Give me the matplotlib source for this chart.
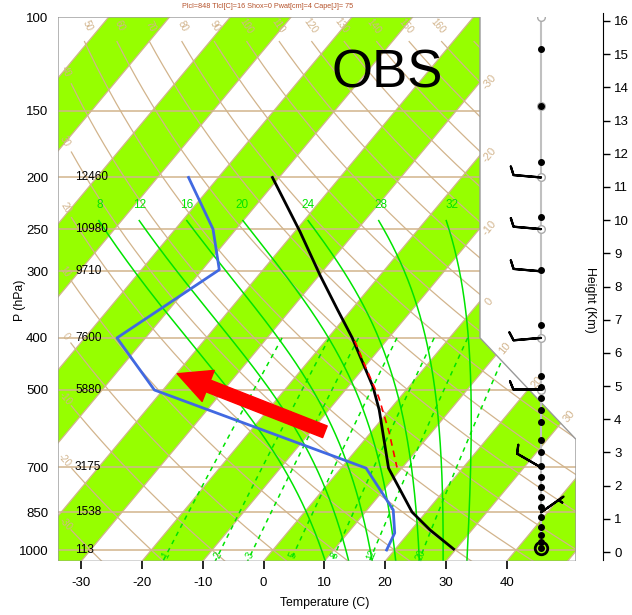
import numpy as np
import matplotlib
matplotlib.use('Agg')
import matplotlib.pyplot as plt
from matplotlib.patches import Polygon, FancyArrowPatch
from matplotlib.ticker import NullLocator

plt.rcParams['font.family'] = ['Liberation Sans', 'DejaVu Sans']

# ---------------- data ----------------
pres_levels = [100, 150, 200, 250, 300, 400, 500, 700, 850, 1000]
height_levels = [200, 250, 300, 400, 500, 700, 850, 1000]
height_labels = ['12460', '10980', '9710', '7600', '5880', '3175', '1538', '113']

temp_p = [200, 253, 305, 354, 400, 494, 546, 702, 849, 917, 996]
temp_c = [-51.1, -39.1, -29.9, -22.3, -16.0, -5.9, -1.7, 7.8, 17.7, 23.1, 29.6]

dewp_p = [200, 250, 298, 400, 501, 702, 841, 929, 1000]
dewp_c = [-64.9, -53.8, -47.2, -54.7, -41.4, 4.1, 14.3, 17.7, 18.7]

parcel_p = [405, 450, 517, 600, 700]
parcel_c = [-15.2, -10.2, -3.5, 2.9, 9.1]

wind_p = [200, 250, 300, 400, 500, 700, 850]
wind_dir = [275, 275, 275, 265, 270, 300, 55]
wind_spd = [10, 10, 10, 10, 10, 10, 5]

dot_p = [115, 147, 187, 237, 298, 378, 471, 494, 518, 546, 575, 622, 655,
         697, 729, 762, 795, 830, 866, 905, 936, 965]
ring_p = [100, 147, 200, 250, 400, 500]
sfc_p = 990

thw_list = [8, 12, 16, 20, 24, 28, 32]
mixr_list = [1, 2, 3, 5, 8, 12, 20]
theta_list = list(range(-30, 200, 10))
theta_label_max = 160
iso_label_list = [-30, -20, -10, 0, 10, 20, 30]
temp_ticks = [-30, -20, -10, 0, 10, 20, 30, 40]
height_ticks = list(range(0, 17))

title = 'Plcl=848 Tlcl[C]=16 Shox=0 Pwat[cm]=4 Cape[J]= 75'

# ---------------- style / layout ----------------
GREEN_BAND = '#96FF00'
TAN = '#D2B48C'
GLINE = '#00E400'
W, H = 632, 615
X0_PIX, PX_PER_C = 263.5, 6.08
P_BOT, P_TOP = 1050., 100.
K = 73.0


def fx(px):
    return px / W


def fy(py):
    return 1 - py / H


def skx(T, p):
    return np.asarray(T, dtype=float) + K * np.log10(P_BOT / np.asarray(p, dtype=float))


fig = plt.figure(figsize=(6.32, 6.15), dpi=100)
ax = fig.add_axes([fx(58), fy(561.3), fx(576) - fx(58), fy(17) - fy(561.3)])
ax.set_yscale('log')
ax.set_ylim(P_BOT, P_TOP)
XL = (58 - X0_PIX) / PX_PER_C
XR = (576 - X0_PIX) / PX_PER_C
XR1 = (480 - X0_PIX) / PX_PER_C
ax.set_xlim(XL, XR)
for s in ax.spines.values():
    s.set_visible(False)
ax.patch.set_visible(False)

bound = Polygon([(XL, P_TOP), (XR1, P_TOP), (XR1, 400), (XR, 620), (XR, P_BOT), (XL, P_BOT)],
                closed=True, facecolor='white', edgecolor='none', zorder=0)
ax.add_patch(bound)


def clip(artists):
    for a in artists:
        a.set_clip_path(bound)


# green isotherm bands
for k in range(-13, 6):
    if k % 2 == 0:
        T1, T2 = 10 * k, 10 * k + 10
        poly = Polygon([(skx(T1, P_BOT), P_BOT), (skx(T2, P_BOT), P_BOT),
                        (skx(T2, P_TOP), P_TOP), (skx(T1, P_TOP), P_TOP)],
                       closed=True, facecolor=GREEN_BAND, edgecolor='none', zorder=1)
        ax.add_patch(poly)
        poly.set_clip_path(bound)

# isotherms
for T in range(-120, 60, 10):
    clip(ax.plot([skx(T, P_BOT), skx(T, P_TOP)], [P_BOT, P_TOP], color=TAN, lw=0.9, zorder=2))

# isobars
for p in pres_levels[1:]:
    clip(ax.plot([XL, XR], [p, p], color=TAN, lw=1.1, zorder=2))

# dry adiabats
pg = np.geomspace(P_TOP, P_BOT, 400)


def angle_of(X1, p1, X2, p2):
    a = ax.transData.transform([(X1, p1), (X2, p2)])
    return np.degrees(np.arctan2(a[1, 1] - a[0, 1], a[1, 0] - a[0, 0]))


for th in theta_list:
    T = (th + 273.15) * (pg / 1000.) ** 0.2857 - 273.15
    X = skx(T, pg)
    m = (pg >= 111) & (X >= XL + 2.1)
    clip(ax.plot(X[m], pg[m], color=TAN, lw=0.9, zorder=2))
    if th > theta_label_max:
        continue
    ptop = 104.
    Xtop = float(skx((th + 273.15) * (ptop / 1000.) ** 0.2857 - 273.15, ptop))
    if Xtop >= XL + 1.2:
        lx, lp = Xtop + 1.6, ptop
    else:
        idx = np.argmin(np.abs(X - (XL + 1.2)))
        lx, lp = X[idx], pg[idx]
        if lp > 1040:
            continue
    Tl = (th + 273.15) * (lp / 1000.) ** 0.2857 - 273.15
    T2 = (th + 273.15) * (lp * 1.05 / 1000.) ** 0.2857 - 273.15
    rot = angle_of(float(skx(Tl, lp)), lp, float(skx(T2, lp * 1.05)), lp * 1.05)
    ax.text(lx, lp, str(th), color=TAN, fontsize=7, rotation=rot, rotation_mode='anchor',
            ha='center', va='center', zorder=3)


# moist (pseudo) adiabats
def f_moist(p, T):
    Rd, Cp, Lv, eps = 287.04, 1005.7, 2.501e6, 0.622
    e = 6.112 * np.exp(17.67 * (T - 273.15) / (T - 29.65))
    rs = eps * e / (p - e)
    return (Rd * T + Lv * rs) / (p * (Cp + Lv * Lv * rs * eps / (Rd * T * T)))


def integrate(T0, ps):
    out = [T0]
    for i in range(len(ps) - 1):
        h = ps[i + 1] - ps[i]
        p, t = ps[i], out[-1]
        k1 = f_moist(p, t)
        k2 = f_moist(p + h / 2, t + h / 2 * k1)
        k3 = f_moist(p + h / 2, t + h / 2 * k2)
        k4 = f_moist(p + h, t + h * k3)
        out.append(t + h / 6 * (k1 + 2 * k2 + 2 * k3 + k4))
    return np.array(out)


p_up = np.linspace(1000, 225, 389)
p_dn = np.linspace(1000, 1050, 26)
for thw in thw_list:
    Tu = integrate(thw + 273.15, p_up) - 273.15
    Td_ = integrate(thw + 273.15, p_dn) - 273.15
    pp = np.concatenate([p_dn[::-1], p_up[1:]])
    TT = np.concatenate([Td_[::-1], Tu[1:]])
    m = pp >= 240
    clip(ax.plot(skx(TT[m], pp[m]), pp[m], color=GLINE, lw=1.1, zorder=3))
    ax.text(float(skx(Tu[-1], 225)) + 1.9, 225, str(thw), color=GLINE, fontsize=8.5,
            ha='center', va='center', zorder=3)

# mixing ratio lines
pm = np.linspace(400, 1050, 120)
for w in mixr_list:
    e = pm * w / (622. + w)
    le = np.log(e / 6.112)
    Td = 243.5 * le / (17.67 - le)
    clip(ax.plot(skx(Td, pm), pm, color=GLINE, lw=1.1, ls=(0, (3, 3)), zorder=3))
    pl = 1023.
    el = np.log(pl * w / (622. + w) / 6.112)
    Tl = 243.5 * el / (17.67 - el)
    el2 = np.log(pl / 1.05 * w / (622. + w) / 6.112)
    Tl2 = 243.5 * el2 / (17.67 - el2)
    rot = angle_of(float(skx(Tl, pl)), pl, float(skx(Tl2, pl / 1.05)), pl / 1.05)
    ax.text(float(skx(Tl, pl)), pl, str(w), color=GLINE, fontsize=7, rotation=rot,
            rotation_mode='anchor', ha='center', va='center', zorder=3)

# boundary outline
outline = Polygon(bound.get_xy(), closed=True, facecolor='none', edgecolor='#999999',
                  lw=1.0, zorder=6)
ax.add_patch(outline)

# isotherm labels on the right boundary
iso_rot = angle_of(float(skx(0, 500)), 500, float(skx(0, 400)), 400)
dL = np.log10(620) - np.log10(400)
for T in iso_label_list:
    L = np.log10(P_BOT) - (XR1 - T) / K
    p = 10 ** L
    if p <= 400:
        xy, off = (XR1, p), (7, 0)
    else:
        L = (T + K * np.log10(P_BOT) - XR1 + (XR - XR1) * np.log10(400) / dL) / (K + (XR - XR1) / dL)
        p = 10 ** L
        X = XR1 + (XR - XR1) * (L - np.log10(400)) / dL
        xy, off = (X, p), (6, 5)
    ax.annotate(str(T), xy=xy, xytext=off, textcoords='offset points', color=TAN,
                fontsize=8, rotation=iso_rot, rotation_mode='anchor', ha='center',
                va='center', annotation_clip=False, zorder=6)

# sounding profiles
ax.plot(skx(dewp_c, dewp_p), dewp_p, color='#4169E1', lw=2, zorder=8)
ax.plot(skx(temp_c, temp_p), temp_p, color='black', lw=2, zorder=8)
ax.plot(skx(parcel_c, parcel_p), parcel_p, color='red', lw=1.2, ls=(0, (4, 3)), zorder=9)

# height labels
for p, lab in zip(height_levels, height_labels):
    ax.text(XL + 17 / PX_PER_C, p, lab, fontsize=8.5, ha='left', va='center', zorder=9)

# red arrow
arrow = FancyArrowPatch(posA=(10.1, 600), posB=(-14.2, 467),
                        arrowstyle='simple,head_length=24,head_width=24,tail_width=9',
                        mutation_scale=1, color='red', shrinkA=0, shrinkB=0, zorder=10)
ax.add_patch(arrow)

# axes ticks
ax.set_yticks(pres_levels)
ax.set_yticklabels([str(p) for p in pres_levels])
ax.yaxis.set_minor_locator(NullLocator())
ax.tick_params(axis='y', length=0, pad=7, labelsize=9.5)
ax.set_xticks(temp_ticks)
ax.set_xticklabels([str(t) for t in temp_ticks])
ax.tick_params(axis='x', length=5.5, width=1.2, pad=6, labelsize=9.5, direction='out')

fig.text(fx(325), fy(603), 'Temperature (C)', fontsize=8.8, ha='center', va='center')
fig.text(fx(20), fy(300), 'P (hPa)', fontsize=8.8, rotation=90, ha='center', va='center')
fig.text(fx(268), fy(6), title, fontsize=5.2, color='#B5522A', ha='center', va='center')
fig.text(fx(387), fy(87), 'OBS', fontsize=38, ha='center', va='baseline')

# wind / station panel
axw = fig.add_axes([fx(501), fy(561.3), fx(581) - fx(501), fy(17) - fy(561.3)])
axw.set_yscale('log')
axw.set_ylim(P_BOT, P_TOP)
axw.set_xlim(-1, 1)
axw.axis('off')
axw.plot([0, 0], [P_TOP, sfc_p], color='#c0c0c0', lw=1.5, zorder=1)
axw.plot(np.zeros(len(ring_p)), ring_p, 'o', ms=5.5, mfc='white', mec='#aaaaaa', mew=1.0, zorder=2)
axw.plot(np.zeros(len(dot_p)), dot_p, 'o', ms=4, color='black', zorder=3)
axw.plot([0], [sfc_p], 'o', ms=9, mfc='none', mec='black', mew=2, zorder=3)
axw.plot([0], [sfc_p], 'o', ms=4, color='black', zorder=3)
wd = np.radians(wind_dir)
ws = np.array(wind_spd, dtype=float)
u = -ws * np.sin(wd)
v = -ws * np.cos(wd)
axw.barbs(np.zeros(len(wind_p)), wind_p, u, v, length=6.3, lw=1.6, color='black',
          pivot='tip', sizes=dict(height=0.3, spacing=0.15), zorder=4)

# height axis
axh = fig.add_axes([fx(593), fy(560.3), fx(603) - fx(593), fy(12.7) - fy(560.3)])
axh.set_ylim(-0.25, 16.25)
for s in ['left', 'top', 'bottom']:
    axh.spines[s].set_visible(False)
axh.patch.set_visible(False)
axh.set_xticks([])
axh.yaxis.tick_right()
axh.set_yticks(height_ticks)
axh.set_yticklabels([str(h) for h in height_ticks])
axh.tick_params(axis='y', length=5, width=1, pad=3, labelsize=9.5, direction='out')
fig.text(fx(590), fy(300), 'Height (Km)', fontsize=8.8, rotation=270, ha='center', va='center')

fig.savefig('out.png', dpi=100)
